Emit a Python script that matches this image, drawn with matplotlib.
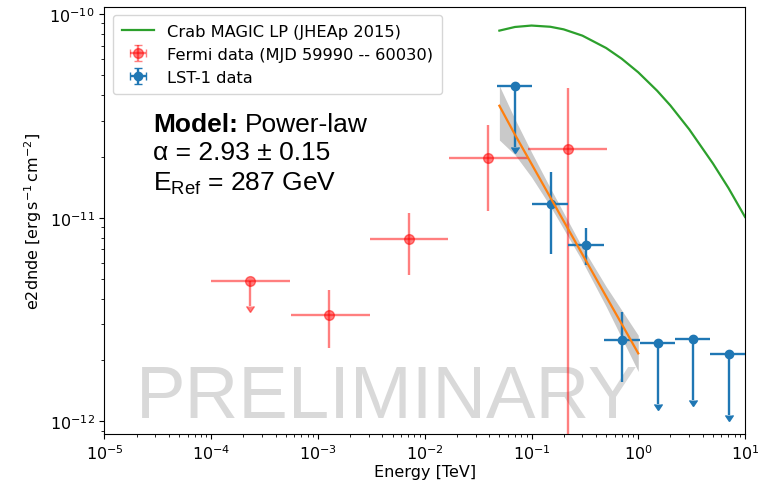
import numpy as np
import matplotlib
matplotlib.use("Agg")
import matplotlib.pyplot as plt

# ---------------- data ----------------
# Fermi-LAT points
fermi_e = [2.3e-4, 1.27e-3, 7.1e-3, 3.95e-2, 0.218]
fermi_elo = [1.0e-4, 5.6e-4, 3.1e-3, 1.7e-2, 0.093]
fermi_ehi = [5.5e-4, 3.08e-3, 1.66e-2, 9.2e-2, 0.506]
fermi_f = [4.9e-12, 3.35e-12, 7.9e-12, 1.97e-11, 2.18e-11]
fermi_flo = [3.7e-12, 2.3e-12, 5.25e-12, 1.08e-11, 1e-14]
fermi_fhi = [4.9e-12, 4.4e-12, 1.06e-11, 2.86e-11, 4.34e-11]
fermi_ul = [True, False, False, False, False]

# LST-1 points
lst_e = [0.0708, 0.151, 0.321, 0.70, 1.52, 3.25, 7.08]
lst_elo = [0.048, 0.102, 0.218, 0.474, 1.04, 2.2, 4.7]
lst_ehi = [0.1, 0.218, 0.474, 1.04, 2.2, 4.69, 10.5]
lst_f = [4.44e-11, 1.17e-11, 7.38e-12, 2.52e-12, 2.44e-12, 2.55e-12, 2.15e-12]
lst_flo = [2.22e-11, 6.67e-12, 5.89e-12, 1.57e-12, 1.22e-12, 1.275e-12, 1.075e-12]
lst_fhi = [4.44e-11, 1.68e-11, 8.93e-12, 3.46e-12, 2.44e-12, 2.55e-12, 2.15e-12]
lst_ul = [True, False, False, False, True, True, True]

# Crab MAGIC log-parabola reference curve
crab_e = [0.05, 0.07, 0.1, 0.15, 0.2, 0.3, 0.5, 0.7, 1.0, 1.5, 2.0, 3.0, 5.0, 7.0, 10.0]
crab_f = [8.30e-11, 8.65e-11, 8.79e-11, 8.67e-11, 8.42e-11, 7.84e-11, 6.82e-11,
          6.04e-11, 5.18e-11, 4.21e-11, 3.56e-11, 2.72e-11, 1.85e-11, 1.40e-11, 1.01e-11]

# Power-law fit and its error band
fit_e = [0.05, 0.07, 0.1, 0.15, 0.287, 0.5, 0.7, 1.0]
fit_f = [3.55e-11, 2.56e-11, 1.84e-11, 1.26e-11, 6.89e-12, 4.11e-12, 3.01e-12, 2.16e-12]
band_lo = [2.41e-11, 2.04e-11, 1.585e-11, 1.14e-11, 6.37e-12, 3.67e-12, 2.57e-12, 1.76e-12]
band_hi = [4.45e-11, 3.05e-11, 2.10e-11, 1.40e-11, 7.45e-12, 4.60e-12, 3.52e-12, 2.65e-12]

# ---------------- plot ----------------
plt.rcParams['font.size'] = 11.5
fig = plt.figure(figsize=(7.61, 4.85), dpi=100)
ax = fig.add_axes([0.1373, 0.1041, 0.979 - 0.1373, 0.9845 - 0.1041])
ax.set_xscale('log')
ax.set_yscale('log')

ax.plot(crab_e, crab_f, color='#2ca02c', lw=1.6, label='Crab MAGIC LP (JHEAp 2015)', zorder=3)

def errs(v, lo, hi):
    v = np.array(v); return [v - np.array(lo), np.array(hi) - v]

ax.errorbar(fermi_e, fermi_f, xerr=errs(fermi_e, fermi_elo, fermi_ehi),
            yerr=errs(fermi_f, fermi_flo, fermi_fhi), uplims=fermi_ul,
            fmt='o', color='red', alpha=0.5, ms=7, elinewidth=1.7,
            label='Fermi data (MJD 59990 -- 60030)', zorder=4)
ax.errorbar(lst_e, lst_f, xerr=errs(lst_e, lst_elo, lst_ehi),
            yerr=errs(lst_f, lst_flo, lst_fhi), uplims=lst_ul,
            fmt='o', color='#1f77b4', ms=6, elinewidth=1.7,
            label='LST-1 data', zorder=5)

ax.fill_between(fit_e, band_lo, band_hi, color='#c9c9c9', lw=0, zorder=2)
ax.plot(fit_e, fit_f, color='#ff7f0e', lw=1.6, zorder=6)

ax.set_xlim(1e-5, 1e1)
ax.set_ylim(8.73e-13, 1.09e-10)
ax.set_xlabel('Energy [TeV]', labelpad=1.5)
ax.set_ylabel(r'e2dnde [$\mathrm{erg\,s^{-1}\,cm^{-2}}$]')

leg = ax.legend(loc='upper left', fontsize=11.7, borderpad=0.55)

ax.text(0.441, 0.0386, 'PRELIMINARY', transform=ax.transAxes, ha='center', va='baseline',
        fontsize=53.5, family='Liberation Sans', color='#d9d9d9', zorder=1)

fs = 19
t1 = ax.text(0.0757, 0.708, 'Model:', transform=ax.transAxes, fontsize=fs,
             family='Liberation Sans', weight='bold', va='baseline')
ax.annotate('Power-law', xy=(1, 0), xycoords=t1, xytext=(5.3, 0),
            textcoords='offset points', fontsize=fs, family='Liberation Sans',
            va='bottom', ha='left')
ax.text(0.0757, 0.643, 'α = 2.93 ± 0.15', transform=ax.transAxes, fontsize=fs,
        family='Liberation Sans', va='baseline')
ax.text(0.0757, 0.570, r'$\mathregular{E_{Ref}}$ = 287 GeV', transform=ax.transAxes,
        fontsize=fs, family='Liberation Sans', va='baseline')

fig.savefig('out.png', dpi=100)
